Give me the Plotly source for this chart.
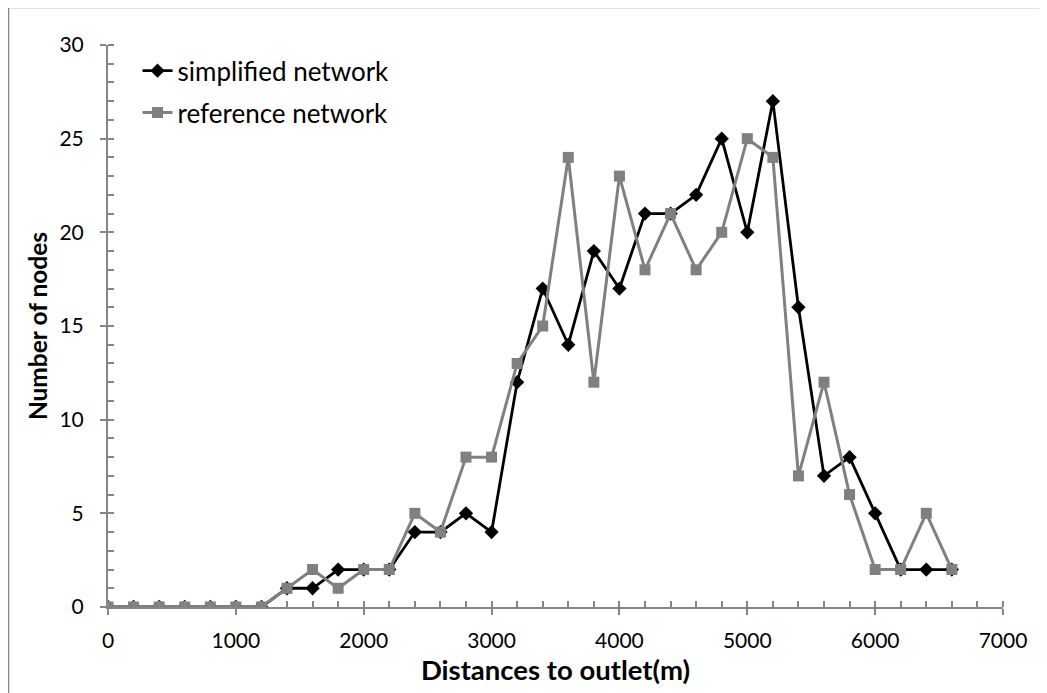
import plotly.graph_objects as go

distances = [0, 200, 400, 600, 800, 1000, 1200, 1400, 1600, 1800, 2000, 2200, 2400, 2600, 2800, 3000,
             3200, 3400, 3600, 3800, 4000, 4200, 4400, 4600, 4800, 5000, 5200, 5400, 5600, 5800,
             6000, 6200, 6400, 6600]
simplified = [0, 0, 0, 0, 0, 0, 0, 1, 1, 2, 2, 2, 4, 4, 5, 4,
              12, 17, 14, 19, 17, 21, 21, 22, 25, 20, 27, 16, 7, 8,
              5, 2, 2, 2]
reference = [0, 0, 0, 0, 0, 0, 0, 1, 2, 1, 2, 2, 5, 4, 8, 8,
             13, 15, 24, 12, 23, 18, 21, 18, 20, 25, 24, 7, 12, 6,
             2, 2, 5, 2]

FONT = "Lato, 'Open Sans', sans-serif"

fig = go.Figure()
fig.add_trace(go.Scatter(x=distances, y=simplified, mode="lines+markers", name="simplified network",
                         legendgroup="a",
                         line=dict(color="#000000", width=2.8),
                         marker=dict(symbol="diamond", size=11, color="#000000")))
fig.add_trace(go.Scatter(x=distances, y=reference, mode="lines+markers", name="reference network",
                         legendgroup="b",
                         line=dict(color="#808080", width=3),
                         marker=dict(symbol="square", size=11, color="#808080")))

# page body has an 8px margin, so the figure itself is a little smaller than the window
W, H = 1039, 685
L, R, T, B = 100, 44, 37, 86
pw, ph = W - L - R, H - T - B

fig.update_layout(
    width=W, height=H,
    margin=dict(l=L, r=R, t=T, b=B, autoexpand=False),
    paper_bgcolor="white", plot_bgcolor="white",
    font=dict(family=FONT, size=21, color="#000000"),
    showlegend=True,
    legend=dict(x=0.033, y=0.996, xanchor="left", yanchor="top", bgcolor="rgba(0,0,0,0)",
                font=dict(size=26), itemwidth=30, tracegroupgap=5),
    xaxis=dict(range=[0, 7000], tickmode="linear", dtick=1000, tick0=0, automargin=False,
               showgrid=False, zeroline=False, showline=True, linecolor="#868686", linewidth=2,
               ticks="outside", ticklen=6, tickcolor="#868686", tickwidth=1.5, ticklabelstandoff=8,
               minor=dict(ticks="inside", dtick=200, ticklen=6, tickcolor="#868686", tickwidth=1.5, showgrid=False),
               title=dict(text="<b>Distances to outlet(m)</b>", font=dict(size=27.5), standoff=10),
               tickfont=dict(size=21)),
    yaxis=dict(range=[0, 30], tickmode="linear", dtick=5, tick0=0, automargin=False,
               showgrid=False, zeroline=False, showline=True, linecolor="#868686", linewidth=2,
               ticks="outside", ticklen=6, tickcolor="#868686", tickwidth=1.5, ticklabelstandoff=12,
               minor=dict(ticks="inside", dtick=1, ticklen=6, tickcolor="#868686", tickwidth=1.5, showgrid=False),
               title=dict(text="<b>Number of nodes</b>", font=dict(size=24.5), standoff=5),
               tickfont=dict(size=21)),
)

fig.add_shape(type="rect", xref="paper", yref="paper",
              x0=-(L - 0.5) / pw, x1=(W + 5 - L) / pw,
              y0=-(B + 5) / ph, y1=(ph + T + 0.5) / ph,
              line=dict(color="#868686", width=1.5), fillcolor="rgba(0,0,0,0)", layer="below")

fig.write_html("out.html")
